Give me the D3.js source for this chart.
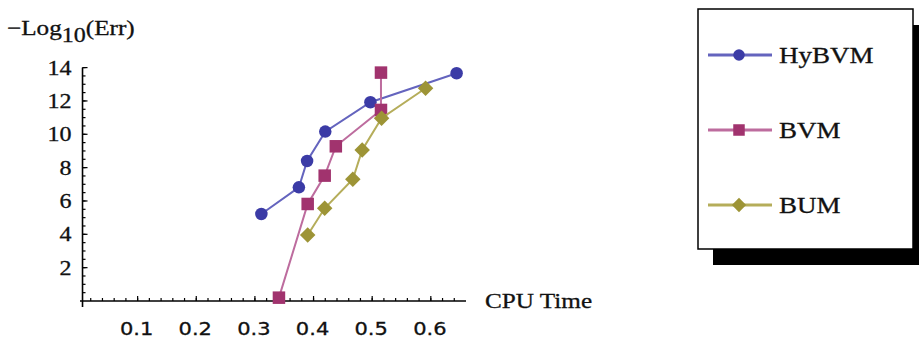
<!DOCTYPE html>
<html>
<head>
  <style>
    body { margin: 0; background: #fff; }
    svg { display: block; }
  </style>
</head>
<body>
  <svg id="chart" width="919" height="340"></svg>
  <script src="https://d3js.org/d3.v7.min.js"></script>
  <script>
    // values (CPU time, -log10 error)
    const hybvmTime = [0.311, 0.375, 0.389, 0.420, 0.497, 0.644];
    const hybvmErr  = [5.22, 6.82, 8.40, 10.16, 11.92, 13.66];
    const bvmTime = [0.341, 0.390, 0.419, 0.438, 0.515, 0.515];
    const bvmErr  = [0.2, 5.82, 7.52, 9.28, 11.46, 13.70];
    const bumTime = [0.390, 0.419, 0.467, 0.483, 0.516, 0.591];
    const bumErr  = [3.96, 5.56, 7.30, 9.06, 10.96, 12.76];

    const seriesNames = ["HyBVM", "BVM", "BUM"];
    const xTickValues = [0.1, 0.2, 0.3, 0.4, 0.5, 0.6];
    const yTickValues = [2, 4, 6, 8, 10, 12, 14];

    const svg = d3.select("#chart");
    svg.append("rect").attr("width", 919).attr("height", 340).attr("fill", "#fff");

    const x = d3.scaleLinear().domain([0, 0.66]).range([79, 466]);
    const y = d3.scaleLinear().domain([0, 14]).range([301, 67.6]);

    const styles = [
      {line: "#6464be", mark: "#3b3ba6", shape: "circle"},
      {line: "#bd6c9e", mark: "#a1336e", shape: "square"},
      {line: "#b5ad5a", mark: "#9d9436", shape: "diamond"}
    ];

    const series = [
      d3.zip(hybvmTime, hybvmErr),
      d3.zip(bvmTime, bvmErr),
      d3.zip(bumTime, bumErr)
    ];

    // stretched text helper (picture is wider than tall)
    function label(g, tx, ty, str, size, family, anchor) {
      return g.append("text")
        .attr("transform", `translate(${tx},${ty}) scale(1.2,1)`)
        .attr("font-family", family)
        .attr("font-size", size)
        .attr("text-anchor", anchor || "start")
        .attr("fill", "#111")
        .attr("stroke", "#111").attr("stroke-width", 0.3)
        .text(str);
    }

    // axes
    const axisX = x(0.006);
    const axisY = y(0);

    const gx = svg.append("g");
    gx.append("line").attr("x1", x(0) + 1).attr("x2", x(0.66)).attr("y1", axisY).attr("y2", axisY)
      .attr("stroke", "#000").attr("stroke-width", 1.6);
    gx.selectAll(".minor").data(d3.range(0.02, 0.66, 0.02)).enter().append("line")
      .attr("x1", d => x(d)).attr("x2", d => x(d))
      .attr("y1", axisY).attr("y2", axisY - 3)
      .attr("stroke", "#000").attr("stroke-width", 1.2);
    gx.selectAll(".major").data(xTickValues).enter().append("line")
      .attr("x1", d => x(d)).attr("x2", d => x(d))
      .attr("y1", axisY).attr("y2", axisY - 5)
      .attr("stroke", "#000").attr("stroke-width", 1.2);
    xTickValues.forEach(v => label(gx, x(v) - 1, axisY + 34, d3.format(".1f")(v), 17.5, "DejaVu Sans", "middle"));

    const gy = svg.append("g");
    gy.append("line").attr("x1", axisX).attr("x2", axisX).attr("y1", y(14)).attr("y2", axisY + 6)
      .attr("stroke", "#000").attr("stroke-width", 1.6);
    gy.selectAll(".minor").data(d3.range(0.5, 14.01, 0.5)).enter().append("line")
      .attr("x1", axisX).attr("x2", axisX + 3)
      .attr("y1", d => y(d)).attr("y2", d => y(d))
      .attr("stroke", "#000").attr("stroke-width", 1.2);
    gy.selectAll(".major").data(yTickValues).enter().append("line")
      .attr("x1", axisX).attr("x2", axisX + 5)
      .attr("y1", d => y(d)).attr("y2", d => y(d))
      .attr("stroke", "#000").attr("stroke-width", 1.2);
    yTickValues.forEach(v => label(gy, axisX - 11, y(v) + 7, String(v), 20, "Liberation Serif", "end"));

    // axis titles
    const yt = svg.append("text")
      .attr("transform", "translate(7,35) scale(1.2,1)")
      .attr("font-family", "Liberation Serif").attr("font-size", 21)
      .attr("fill", "#111").attr("stroke", "#111").attr("stroke-width", 0.3);
    yt.append("tspan").text("\u2212Log");
    yt.append("tspan").attr("dy", 7).attr("font-size", 20).text("10");
    yt.append("tspan").attr("dy", -7).text("(Err)");
    label(svg, 485, 308, "CPU Time", 21, "Liberation Serif");

    // series lines and markers
    const line = d3.line().x(d => x(d[0])).y(d => y(d[1]));

    function marker(g, shape, color, cx, cy, s) {
      if (shape === "circle") {
        g.append("circle").attr("cx", cx).attr("cy", cy).attr("r", s / 2).attr("fill", color);
      } else if (shape === "square") {
        g.append("rect").attr("x", cx - s / 2).attr("y", cy - s / 2)
          .attr("width", s).attr("height", s).attr("fill", color);
      } else {
        const h = s * 0.62;
        g.append("path").attr("d", `M${cx},${cy - h}L${cx + h},${cy}L${cx},${cy + h}L${cx - h},${cy}Z`)
          .attr("fill", color);
      }
    }

    series.forEach((pts, i) => {
      const g = svg.append("g");
      g.append("path").datum(pts).attr("d", line)
        .attr("fill", "none").attr("stroke", styles[i].line).attr("stroke-width", 2);
      pts.forEach(p => marker(g, styles[i].shape, styles[i].mark, x(p[0]), y(p[1]), 12.5));
    });

    // legend box with shadow
    const lg = svg.append("g");
    lg.append("rect").attr("x", 713).attr("y", 25).attr("width", 215).attr("height", 240).attr("fill", "#000");
    lg.append("rect").attr("x", 698).attr("y", 9).attr("width", 215).attr("height", 240)
      .attr("fill", "#fff").attr("stroke", "#000").attr("stroke-width", 1.5);
    const legY = d3.scalePoint().domain(seriesNames).range([55, 205]);
    seriesNames.forEach((name, i) => {
      const ly = legY(name);
      lg.append("line").attr("x1", 708).attr("x2", 772).attr("y1", ly).attr("y2", ly)
        .attr("stroke", styles[i].line).attr("stroke-width", 3);
      marker(lg, styles[i].shape, styles[i].mark, 739, ly, 11.5);
      label(lg, 779, ly + 8, name, 22.5, "Liberation Serif");
    });
  </script>
</body>
</html>
